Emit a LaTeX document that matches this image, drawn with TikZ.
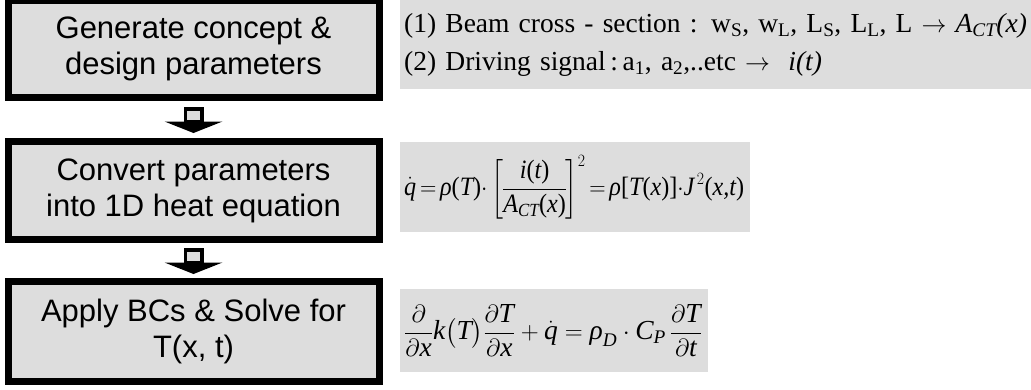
\documentclass[tikz,border=0pt]{standalone}
\usepackage{fontspec}
\usepackage{amsmath}
\usepackage{graphicx}
\setmainfont{Liberation Serif}
\newfontfamily\arialf{Liberation Sans}
\usetikzlibrary{calc}
\definecolor{boxgray}{RGB}{221,221,221}
\newcommand\vi[1]{\text{\itshape #1}}
\newcommand\tp[1]{\text{#1}}
\begin{document}
\begin{tikzpicture}[x=1pt,y=-1pt,
  stepbox/.style={draw=black, line width=7pt, fill=boxgray, minimum width=371pt,
    inner sep=0pt, align=center, font=\arialf\fontsize{31}{36}\selectfont},
  eqbox/.style={fill=boxgray, anchor=west, inner ysep=0pt, inner xsep=4pt, align=left,
    font=\fontsize{27.5}{38}\selectfont},
  arrowhead/.style={fill=black},
  arrowshaft/.style={draw=black, line width=3.5pt, fill=boxgray}]
\useasboundingbox (0,0) rectangle (1031,389);
% left step boxes
\node[stepbox, minimum height=97.5pt] (b1) at (193.5,48.75) {Generate concept \&\\design parameters};
\node[stepbox, minimum height=98pt] (b2) at (193.5,190.5) {Convert parameters\\into 1D heat equation};
\node[stepbox, minimum height=100pt] (b3) at (193.5,331.5) {Apply BCs \& Solve for\\T(x, t)};
% block arrows
\path (b1.south) -- (b2.north) coordinate[midway] (m1);
\path (b2.south) -- (b3.north) coordinate[midway] (m2);
\foreach \m in {m1,m2}{
  \fill[arrowhead] ([shift={(-29,2)}]\m) -- ([shift={(29,2)}]\m) -- ([shift={(0,13.5)}]\m) -- cycle;
  \draw[arrowshaft] ([shift={(-8.25,-10.75)}]\m) rectangle ([shift={(8.25,2.5)}]\m);
}
% right boxes
\node[eqbox, text width=623pt, minimum height=89pt] (t1) at (400,44.5)
  {\mbox{(1) Beam cross - section : w$_{\text{S}}$, w$_{\text{L}}$, L$_{\text{S}}$, L$_{\text{L}}$, L $\rightarrow$ \textit{A$_{\textit{CT}}$(x)}}\\
   \mbox{(2) Driving signal\,:\,a$_{\text{1}}$, a$_{\text{2}}$,..etc $\rightarrow$\ \ \textit{i(t)}}};
\node[eqbox, text width=342pt, minimum height=90pt, font=\fontsize{26.5}{34}\selectfont] (e2) at (400,187)
  {\resizebox{340pt}{\height}{\thickmuskip=3mu\nulldelimiterspace=0pt $\dot{\vi{q}} = \vi{ρ}\tp{(}\vi{T}\tp{)}{\cdot}\left[\dfrac{\vi{i}\tp{(}\vi{t}\tp{)}}{\vi{A}_{\vi{CT}}\tp{(}\vi{x}\tp{)}}\right]^{2} = \vi{ρ}\tp{[}\vi{T}\tp{(}\vi{x}\tp{)]}{\cdot}\vi{J}^{\,2}\tp{(}\vi{x,t}\tp{)}$}};
\node[eqbox, text width=300pt, minimum height=83pt] (e3) at (400,330.5)
  {\mbox{$\dfrac{\partial}{\partial \vi{x}}\vi{k}\bigl(\vi{T}\bigr)\dfrac{\partial\vi{T}}{\partial\vi{x}} + \dot{\vi{q}} = \vi{ρ}_{\vi{D}}\cdot \vi{C}_{\vi{P}}\,\dfrac{\partial\vi{T}}{\partial\vi{t}}$}};
\end{tikzpicture}
\end{document}
